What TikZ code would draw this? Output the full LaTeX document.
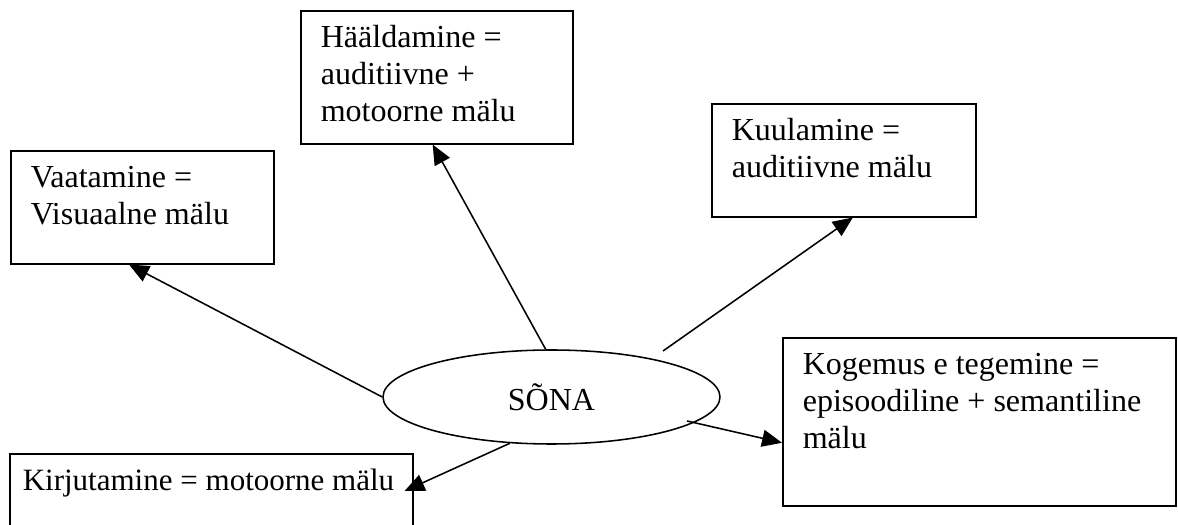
\documentclass[tikz,border=0pt]{standalone}
\usepackage{fontspec}
\setmainfont{Liberation Serif}
\usetikzlibrary{arrows.meta,calc,shapes.geometric}
\newlength\pxu
\setlength\pxu{0.387pt}

\begin{document}
\begin{tikzpicture}[x=0.387pt, y=-0.387pt, line width=0.6pt,
    font=\fontsize{12.4}{14.3}\selectfont]

\tikzset{
    memobox/.style={draw, rectangle, anchor=north west, inner xsep=20\pxu, inner ysep=11\pxu},
    link/.style={-{Triangle[length=7.7pt, width=6.6pt]}}
}
\useasboundingbox (0,0) rectangle (1178,525);
\clip (0,0) rectangle (1178,525);

\node[draw, ellipse, minimum width=337\pxu, minimum height=94\pxu, inner sep=0pt] (sona) at (551.5,397) {SÕNA};

\node[memobox] (vaat) at (10,150) {\parbox[t][91\pxu][t]{223\pxu}{\strut Vaatamine =\\ Visuaalne mälu}};
\node[memobox] (haal) at (300,10) {\parbox[t][111\pxu][t]{232\pxu}{\strut Hääldamine =\\ auditiivne +\\ motoorne mälu}};
\node[memobox] (kuul) at (711,103) {\parbox[t][91\pxu][t]{224\pxu}{\strut Kuulamine =\\ auditiivne mälu}};
\node[memobox] (koge) at (782,337) {\parbox[t][146\pxu][t]{353\pxu}{\strut Kogemus e tegemine =\\ episoodiline + semantiline\\ mälu}};
\node[memobox, inner xsep=13\pxu, font=\fontsize{12}{14.3}\selectfont] (kirj) at (9,453) {\parbox[t][70\pxu][t]{377\pxu}{\strut Kirjutamine = motoorne mälu}};

\coordinate (kuulfrom) at (663,351);
\coordinate (kogefrom) at (687,421);

\draw[link] (sona.west) -- ($(vaat.south west)!0.45!(vaat.south east)$);
\draw[link] (sona.97) -- ($(haal.south west)!0.485!(haal.south east)$);
\draw[link] (kuulfrom) -- ($(kuul.south west)!0.534!(kuul.south east)$);
\draw[link] (kogefrom) -- ($(koge.west)+(0,21)$);
\draw[link] (sona.228) -- ($(kirj.north east)+(-9,38)$);
\end{tikzpicture}
\end{document}
